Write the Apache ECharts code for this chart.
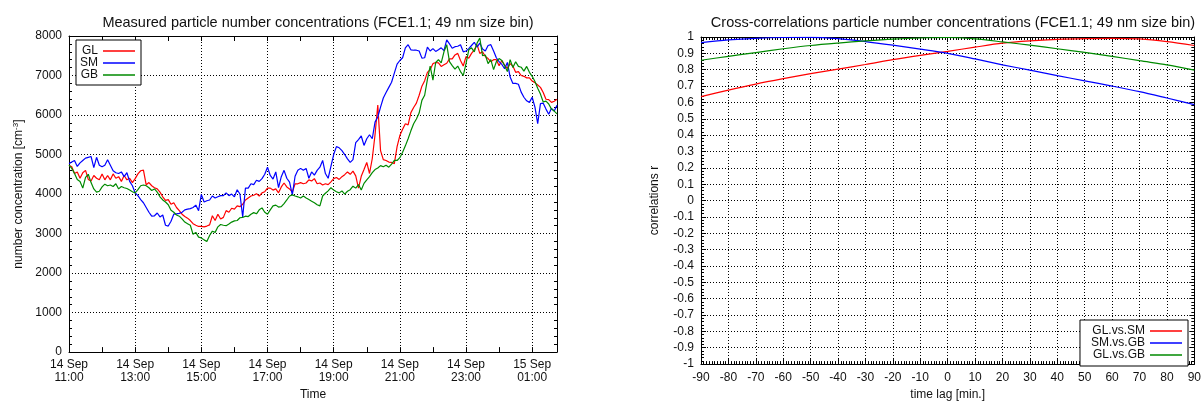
<!DOCTYPE html>
<html><head><meta charset="utf-8">
<script src="https://cdn.jsdelivr.net/npm/echarts@6/dist/echarts.min.js"></script>
<style>html,body{margin:0;padding:0;background:#fff}#c{width:1204px;height:406px}</style>
</head><body><div id="c"></div>
<script>
// ---- Left chart: measured concentrations, 5-min steps starting 14 Sep 11:00 ----
const startDay = 14, startHour = 11, stepMin = 5;
const GL = [4730,4690,4520,4560,4400,4540,4600,4370,4330,4470,
4400,4360,4510,4360,4470,4360,4510,4400,4440,4320,
4470,4360,4400,4290,4390,4510,4590,4605,4235,4290,
4210,4160,4130,4050,3930,3840,3860,3740,3780,3660,
3580,3490,3430,3390,3330,3250,3210,3180,3180,3170,
3190,3220,3450,3330,3490,3370,3410,3580,3540,3640,
3620,3700,3680,3740,3850,3900,3950,3970,4010,3950,
4030,4060,4150,4150,4100,4130,4030,4180,4280,4180,
4130,4050,4260,4260,4290,4260,4280,4360,4330,4390,
4260,4280,4230,4260,4240,4310,4390,4420,4370,4440,
4490,4560,4500,4580,4460,4150,4450,4620,4800,4520,
4900,5500,6250,5100,4870,4850,4810,4800,4770,5200,
5480,5640,5780,5750,6060,6190,6300,6500,6730,6870,
7080,7150,7300,7330,7320,7230,7270,7310,7420,7420,
7520,7560,7380,7240,7480,7440,7560,7650,7780,7560,
7600,7480,7430,7350,7400,7400,7250,7380,7260,7180,
7300,7240,7080,7100,7000,6980,6940,6940,6860,6820,
6760,6700,6570,6400,6390,6320,6350,6400];
const SM = [4770,4810,4850,4700,4790,4850,4910,4930,4950,4670,
4930,4730,4690,4730,4870,4730,4590,4540,4520,4560,
4440,4540,4320,4210,4030,3960,3860,3780,3660,3540,
3440,3450,3520,3420,3470,3210,3190,3310,3490,3500,
3510,3540,3600,3620,3630,3660,3720,3580,3990,3800,
3830,3850,3950,3900,3930,3960,3960,4030,3960,4000,
3930,4110,4000,3420,4150,4150,4260,4240,4350,4320,
4390,4500,4680,4470,4380,4560,4160,4440,4600,4400,
4300,3980,4450,4600,4650,4600,4650,4400,4560,4480,
4600,4680,4850,4520,4400,4700,5000,5200,5170,5100,
5000,4890,4800,4870,5300,5380,5470,5230,5400,5500,
5400,5820,5950,6200,6430,6570,6700,6830,7060,7290,
7380,7450,7700,7780,7650,7640,7640,7620,7440,7450,
7720,7620,7680,7610,7650,7700,7630,7900,7800,7690,
7730,7740,7780,7600,7620,7680,7760,7840,7720,7820,
7670,7620,7760,7780,7620,7450,7350,7280,7170,7330,
6960,6800,6800,6780,6580,6450,6360,6320,6450,6200,
5780,6290,6300,6150,6020,6170,6100,6250];
const GB = [4730,4650,4520,4370,4320,4150,4420,4500,4290,4130,
4050,4070,4180,4250,4210,4230,4190,4260,4130,4190,
4160,4140,4100,4060,4030,4110,4210,4230,4210,4160,
4090,4130,4050,3930,3850,3800,3730,3590,3540,3470,
3440,3370,3290,3250,3210,2980,3030,2910,2890,2840,
2800,2950,3060,3030,3170,3230,3210,3200,3240,3290,
3320,3330,3400,3410,3440,3430,3490,3530,3500,3600,
3650,3540,3490,3600,3700,3720,3670,3680,3760,3850,
3950,3980,3950,3930,3900,3950,3900,3860,3820,3780,
3730,3700,3950,4020,4080,4160,4100,4060,4030,4080,
4000,4070,4110,4200,4150,4240,4100,4270,4360,4440,
4540,4620,4660,4720,4690,4730,4680,4760,4850,4850,
4920,5060,5220,5400,5600,5780,5900,6050,6370,6500,
6900,7240,6880,7330,7400,7320,7600,7780,7350,7250,
7160,7240,7100,7000,7300,7650,7700,7600,7820,7950,
7500,7520,7300,7400,7150,7350,7430,7380,7250,7100,
7400,7200,7350,7230,7210,7110,7230,7080,6980,6850,
6680,6530,6330,6350,6280,6150,6100,6030];
const months = ['Sep'];

// ---- Right chart: cross-correlations vs time lag ----
const lags = [-90,-80,-70,-60,-50,-40,-30,-20,-10,0,10,20,30,40,50,60,70,80,90];
const GLvsSM = [0.635,0.675,0.712,0.745,0.776,0.804,0.832,0.862,0.888,0.912,0.938,0.962,0.976,0.985,0.990,0.992,0.988,0.972,0.948];
const SMvsGB = [0.966,0.982,0.992,0.997,0.998,0.990,0.972,0.950,0.926,0.900,0.866,0.830,0.797,0.764,0.732,0.700,0.666,0.627,0.587];
const GLvsGB = [0.858,0.882,0.905,0.928,0.948,0.963,0.976,0.987,0.994,0.997,0.988,0.970,0.950,0.928,0.906,0.882,0.855,0.830,0.798];

const times = GL.map((_, i) => {
  const tot = startHour * 60 + i * stepMin;
  const d = startDay + Math.floor(tot / 1440);
  const h = Math.floor((tot % 1440) / 60), m = tot % 60;
  return d + ' ' + months[0] + '\n' + String(h).padStart(2, '0') + ':' + String(m).padStart(2, '0');
});

const FONT = 'Liberation Sans';
const TXT = '#111';
const dotted = { show: true, lineStyle: { color: '#000', width: 1, type: [1, 2] } };
const axLine = { show: true, onZero: false, lineStyle: { color: '#000', width: 1 } };
const lbl = { color: TXT, fontFamily: FONT, fontSize: 12 };
const tick = { inside: true, length: 5, lineStyle: { color: '#000' } };

const chart = echarts.init(document.getElementById('c'), null, { renderer: 'canvas' });
chart.setOption({
  animation: false,
  backgroundColor: '#fff',
  textStyle: { fontFamily: FONT },
  title: [
    { text: 'Measured particle number concentrations (FCE1.1; 49 nm size bin)', left: 313, top: 10, textAlign: 'center',
      textStyle: { fontFamily: FONT, fontSize: 14.5, fontWeight: 'normal', color: TXT } },
    { text: 'Cross-correlations particle number concentrations (FCE1.1; 49 nm size bin)', left: 948, top: 10, textAlign: 'center',
      textStyle: { fontFamily: FONT, fontSize: 14.5, fontWeight: 'normal', color: TXT } }
  ],
  legend: [
    { data: ['GL', 'SM', 'GB'], left: 76, top: 40, orient: 'vertical', align: 'right', icon: 'rect',
      itemWidth: 32, itemHeight: 1.5, itemGap: 0, padding: [5, 6, 4, 4],
      borderColor: '#000', borderWidth: 1, backgroundColor: '#fff',
      textStyle: { color: TXT, fontFamily: FONT, fontSize: 12, lineHeight: 11.5 } },
    { data: ['GL.vs.SM', 'SM.vs.GB', 'GL.vs.GB'], right: 16, bottom: 40, orient: 'vertical', align: 'right', icon: 'rect',
      itemWidth: 32, itemHeight: 1.5, itemGap: 0, padding: [5, 6, 5, 11],
      borderColor: '#000', borderWidth: 1, backgroundColor: '#fff',
      textStyle: { color: TXT, fontFamily: FONT, fontSize: 12, lineHeight: 11 } }
  ],
  grid: [
    { left: 69, top: 36, width: 488, height: 324 },
    { left: 701, top: 37, width: 494, height: 333 }
  ],
  xAxis: [
    { type: 'category', gridIndex: 0, data: times, boundaryGap: false, position: 'bottom',
      axisLine: axLine, axisTick: Object.assign({ interval: 11 }, tick),
      axisLabel: Object.assign({ interval: 23, margin: 6, lineHeight: 13 }, lbl),
      splitLine: Object.assign({ interval: 23 }, dotted),
      name: 'Time', nameLocation: 'middle', nameGap: 35, nameTextStyle: lbl },
    { type: 'category', gridIndex: 0, data: times, boundaryGap: false, position: 'top',
      axisLine: axLine, axisTick: Object.assign({ interval: 11 }, tick),
      axisLabel: { show: false }, splitLine: { show: false } },
    { type: 'value', gridIndex: 1, min: -90, max: 90, interval: 10, position: 'bottom',
      axisLine: axLine, axisTick: tick,
      minorTick: { show: true, splitNumber: 10, length: 3, lineStyle: { color: '#000' } },
      axisLabel: Object.assign({ margin: 8 }, lbl), splitLine: dotted,
      name: 'time lag [min.]', nameLocation: 'middle', nameGap: 24, nameTextStyle: lbl },
    { type: 'value', gridIndex: 1, min: -90, max: 90, interval: 10, position: 'top',
      axisLine: axLine, axisTick: tick,
      minorTick: { show: true, splitNumber: 10, length: 3, lineStyle: { color: '#000' } },
      axisLabel: { show: false }, splitLine: { show: false } }
  ],
  yAxis: [
    { type: 'value', gridIndex: 0, min: 0, max: 8000, interval: 1000, position: 'left',
      axisLine: axLine, axisTick: tick,
      minorTick: { show: true, splitNumber: 5, length: 3, lineStyle: { color: '#000' } },
      axisLabel: Object.assign({ margin: 7, formatter: v => String(v) }, lbl), splitLine: dotted,
      name: 'number concentration [cm{sup|-3}]', nameLocation: 'middle', nameGap: 43,
      nameTextStyle: Object.assign({ rich: { sup: { fontSize: 8, verticalAlign: 'top', color: TXT, fontFamily: FONT, padding: [0, 0, 6, 0] } } }, lbl) },
    { type: 'value', gridIndex: 0, min: 0, max: 8000, interval: 1000, position: 'right',
      axisLine: axLine, axisTick: tick,
      minorTick: { show: true, splitNumber: 5, length: 3, lineStyle: { color: '#000' } },
      axisLabel: { show: false }, splitLine: { show: false } },
    { type: 'value', gridIndex: 1, min: -1, max: 1, interval: 0.1, position: 'left',
      axisLine: axLine, axisTick: tick,
      minorTick: { show: true, splitNumber: 5, length: 3, lineStyle: { color: '#000' } },
      axisLabel: Object.assign({ margin: 7, formatter: v => String(Math.round(v * 10) / 10) }, lbl), splitLine: dotted,
      name: 'correlations r', nameLocation: 'middle', nameGap: 40, nameTextStyle: lbl },
    { type: 'value', gridIndex: 1, min: -1, max: 1, interval: 0.1, position: 'right',
      axisLine: axLine, axisTick: tick,
      minorTick: { show: true, splitNumber: 5, length: 3, lineStyle: { color: '#000' } },
      axisLabel: { show: false }, splitLine: { show: false } }
  ],
  series: [
    { name: 'GL', type: 'line', xAxisIndex: 0, yAxisIndex: 0, data: GL, symbol: 'none', color: '#ff0000', lineStyle: { width: 1.2 } },
    { name: 'SM', type: 'line', xAxisIndex: 0, yAxisIndex: 0, data: SM, symbol: 'none', color: '#0000ff', lineStyle: { width: 1.2 } },
    { name: 'GB', type: 'line', xAxisIndex: 0, yAxisIndex: 0, data: GB, symbol: 'none', color: '#008a00', lineStyle: { width: 1.2 } },
    { name: 'GL.vs.SM', type: 'line', xAxisIndex: 2, yAxisIndex: 2, data: lags.map((l, i) => [l, GLvsSM[i]]), symbol: 'none', smooth: 0.3, color: '#ff0000', lineStyle: { width: 1.2 } },
    { name: 'SM.vs.GB', type: 'line', xAxisIndex: 2, yAxisIndex: 2, data: lags.map((l, i) => [l, SMvsGB[i]]), symbol: 'none', smooth: 0.3, color: '#0000ff', lineStyle: { width: 1.2 } },
    { name: 'GL.vs.GB', type: 'line', xAxisIndex: 2, yAxisIndex: 2, data: lags.map((l, i) => [l, GLvsGB[i]]), symbol: 'none', smooth: 0.3, color: '#008a00', lineStyle: { width: 1.2 } }
  ]
});
</script></body></html>
